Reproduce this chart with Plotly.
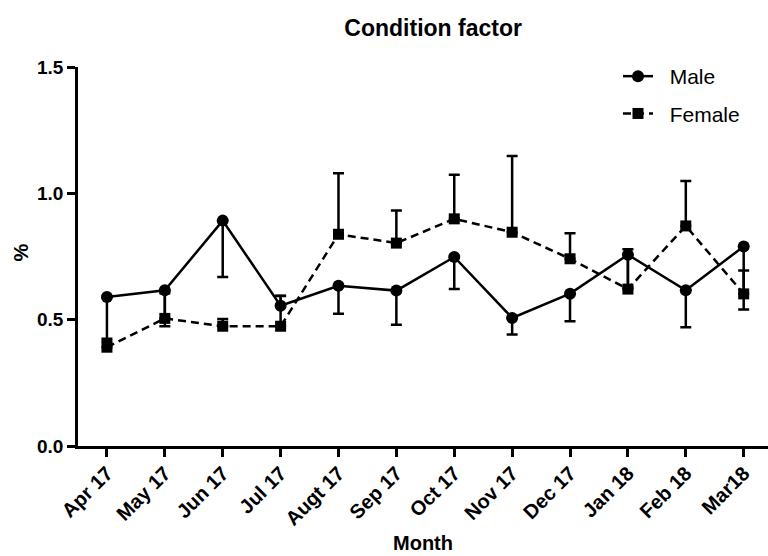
import plotly.graph_objects as go

months = ["Apr 17", "May 17", "Jun 17", "Jul 17", "Augt 17", "Sep 17",
          "Oct 17", "Nov 17", "Dec 17", "Jan 18", "Feb 18", "Mar18"]
male = [0.59, 0.616, 0.892, 0.555, 0.634, 0.615, 0.748, 0.507, 0.603, 0.757, 0.616, 0.79]
male_err_up = [0, 0, 0, 0.04, 0, 0, 0, 0, 0, 0, 0, 0]
male_err_down = [0.166, 0.142, 0.223, 0, 0.111, 0.135, 0.127, 0.066, 0.109, 0.13, 0.146, 0.25]
female = [0.391, 0.505, 0.474, 0.474, 0.838, 0.803, 0.899, 0.846, 0.741, 0.621, 0.871, 0.602]
female_err_up = [0.025, 0.10, 0.029, 0.12, 0.241, 0.129, 0.175, 0.302, 0.101, 0.158, 0.178, 0.093]
female_err_down = [0] * 12

FONT = "Arial, Liberation Sans, Helvetica, sans-serif"
x = list(range(len(months)))

fig = go.Figure()
fig.add_trace(go.Scatter(
    x=x, y=male, name="\u00a0\u00a0Male", mode="lines+markers", legendgroup="m",
    line=dict(color="black", width=2.5),
    marker=dict(symbol="circle", size=12, color="black"),
    error_y=dict(type="data", symmetric=False, array=male_err_up,
                 arrayminus=male_err_down, color="black", thickness=2.5, width=5.5),
))
fig.add_trace(go.Scatter(
    x=x, y=female, name="\u00a0\u00a0Female", mode="lines+markers", legendgroup="f",
    line=dict(color="black", width=2.5, dash="8px,5px"),
    marker=dict(symbol="square", size=11, color="black"),
    error_y=dict(type="data", symmetric=False, array=female_err_up,
                 arrayminus=female_err_down, color="black", thickness=2.5, width=5.5),
))

fig.update_layout(
    width=768, height=556,
    margin=dict(l=78, r=0, t=67, b=110),
    paper_bgcolor="white", plot_bgcolor="white",
    font=dict(family=FONT, color="black"),
    title=dict(text="<b>Condition factor</b>", x=0.564, xanchor="center",
               y=1 - 28 / 556, yanchor="middle", font=dict(size=23)),
    legend=dict(x=0.7826, y=1.029, xanchor="left", yanchor="top",
                font=dict(size=21), bgcolor="rgba(0,0,0,0)",
                traceorder="grouped", tracegroupgap=7),
    showlegend=True,
)
fig.update_xaxes(
    range=[-0.5, 11.42], tickmode="array", tickvals=x, ticktext=months,
    tickangle=-45, ticks="outside", ticklen=8, tickwidth=2.5, tickcolor="black",
    showline=True, linewidth=2.5, linecolor="black", showgrid=False, zeroline=False,
    tickfont=dict(size=20, family=FONT, weight="bold"), ticklabelstandoff=-3,
)
fig.update_yaxes(
    range=[0, 1.5], tickvals=[0, 0.5, 1.0, 1.5], ticktext=["0.0", "0.5", "1.0", "1.5"],
    ticks="outside", ticklen=8, tickwidth=2.5, tickcolor="black",
    showline=True, linewidth=2.5, linecolor="black", showgrid=False, zeroline=False,
    tickfont=dict(size=19, family=FONT, weight="bold"),
)
fig.add_annotation(text="<b>Month</b>", xref="paper", yref="paper", x=0.5, y=0,
                   yshift=-97, showarrow=False, font=dict(size=20), yanchor="middle")
fig.add_annotation(text="<b>%</b>", xref="paper", yref="paper", x=0, y=0.5,
                   xshift=-58, yshift=4, showarrow=False, font=dict(size=20),
                   textangle=-90, xanchor="center", yanchor="middle")

fig.write_html("out.html")
